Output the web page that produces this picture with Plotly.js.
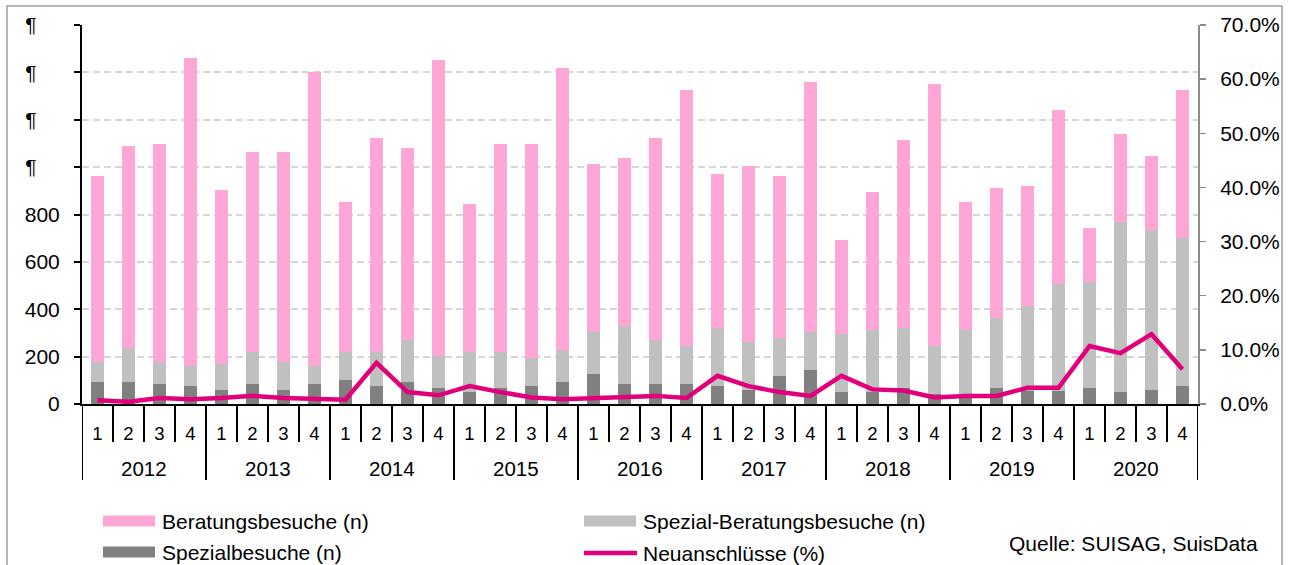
<!DOCTYPE html>
<html>
<head>
<meta charset="utf-8">
<script src="https://cdn.plot.ly/plotly-3.0.1.min.js"></script>
<style>html,body{margin:0;padding:0;background:#fff;}#chart{width:1290px;height:565px;}</style>
</head>
<body>
<div id="chart"></div>
<script>
// ---- data ----
const years = ["2012","2013","2014","2015","2016","2017","2018","2019","2020"];
const quarters = ["1","2","3","4"];
const spezialbesuche = [93,93,84,76, 59,84,59,84, 101,76,93,68, 51,68,76,93, 127,84,84,84, 76,59,118,144, 52,52,69,41, 30,69,55,55, 69,52,59,77];
const spezialBeratung = [84,143,93,84, 110,136,118,76, 119,144,177,135, 169,152,118,135, 177,245,186,161, 245,203,161,160, 244,260,252,204, 282,294,359,452, 446,716,676,624];
const beratungsbesuche = [785,853,921,1301, 734,844,887,1242, 633,903,811,1249, 624,878,904,1191, 709,710,853,1081, 650,743,683,1055, 396,583,794,1106, 541,549,506,734, 228,372,312,625];
const neuanschluesse = [0.7,0.4,1.1,0.9, 1.1,1.5,1.1,0.9, 0.8,7.6,2.2,1.6, 3.3,2.2,1.2,0.9, 1.1,1.5,1.5,1.1, 5.2,3.3,2.2,1.5, 5.2,2.7,2.5,1.2, 1.5,1.5,3.0,3.0, 10.7,9.4,12.9,6.4];
const leftTicks = [0,200,400,600,800,1000,1200,1400,1600];
const leftTickText = ["0","200","400","600","800","¶\u00a0\u00a0\u00a0\u00a0","¶\u00a0\u00a0\u00a0\u00a0","¶\u00a0\u00a0\u00a0\u00a0","¶\u00a0\u00a0\u00a0\u00a0"];
const rightTicks = [0,10,20,30,40,50,60,70];
const rightTickText = ["0.0%","10.0%","20.0%","30.0%","40.0%","50.0%","60.0%","70.0%"];
const names = ["Beratungsbesuche (n)","Spezial-Beratungsbesuche (n)","Spezialbesuche (n)","Neuanschlüsse (%)"];
const source = "Quelle: SUISAG, SuisData";

// ---- categories ----
const cats = [], qtext = [];
years.forEach(y => quarters.forEach(q => { cats.push(y + "-" + q); qtext.push(q); }));

// ---- layout geometry ----
const W = 1290, H = 565, L = 82, R = 92, T = 25, B = 161;
const PW = W - L - R, PH = H - T - B;
const px = X => (X - L) / PW;
const py = Y => (H - B - Y) / PH;

const PINK = "#fea7d6", GRAY = "#c0c0c0", DARK = "#808080", MAG = "#e2007a";
const FONT = "Liberation Sans, Arial, sans-serif";

const traces = [
  {type:"bar", x:cats, y:spezialbesuche, name:names[2], marker:{color:DARK}, yaxis:"y", hoverinfo:"skip"},
  {type:"bar", x:cats, y:spezialBeratung, name:names[1], marker:{color:GRAY}, yaxis:"y", hoverinfo:"skip"},
  {type:"bar", x:cats, y:beratungsbesuche, name:names[0], marker:{color:PINK}, yaxis:"y", hoverinfo:"skip"},
  {type:"scatter", mode:"lines", x:cats, y:neuanschluesse, name:names[3], yaxis:"y2", line:{color:MAG, width:4.5}, hoverinfo:"skip"}
];

const shapes = [];
const annotations = [];
// quarter / year separators under the axis
for (let i = 1; i < cats.length; i++) {
  const isYear = i % 4 === 0;
  shapes.push({type:"line", xref:"x", yref:"paper", x0:i-0.5, x1:i-0.5, y0:0, y1:py(isYear?480:442), line:{color:"#000", width:2}});
}
shapes.push({type:"line", xref:"x", yref:"paper", x0:-0.5, x1:-0.5, y0:0, y1:py(480), line:{color:"#000", width:2}});
shapes.push({type:"line", xref:"x", yref:"paper", x0:cats.length-0.5, x1:cats.length-0.5, y0:0, y1:py(480), line:{color:"#000", width:2}});
// year labels
years.forEach((y, k) => {
  annotations.push({xref:"x", yref:"paper", x:4*k+1.5, y:py(468), text:y, showarrow:false, xanchor:"center", yanchor:"middle", font:{family:FONT, size:20.5, color:"#000"}});
});
// outer frame
shapes.push({type:"rect", xref:"paper", yref:"paper", x0:px(7), x1:px(1282), y0:py(575), y1:py(6), line:{color:"#a0a0a0", width:1.5}, layer:"below"});
// legend (manual)
const leg = [
  {X:103, Y:521, kind:"rect", color:PINK, text:names[0]},
  {X:584, Y:521, kind:"rect", color:GRAY, text:names[1]},
  {X:103, Y:552, kind:"rect", color:DARK, text:names[2]},
  {X:584, Y:553, kind:"line", color:MAG, text:names[3]}
];
leg.forEach(e => {
  if (e.kind === "rect") {
    shapes.push({type:"rect", xref:"paper", yref:"paper", x0:px(e.X), x1:px(e.X+52), y0:py(e.Y+5.5), y1:py(e.Y-5.5), fillcolor:e.color, line:{width:0}});
  } else {
    shapes.push({type:"line", xref:"paper", yref:"paper", x0:px(e.X), x1:px(e.X+53), y0:py(e.Y), y1:py(e.Y), line:{color:e.color, width:4.5}});
  }
  annotations.push({xref:"paper", yref:"paper", x:px(e.X+57), y:py(e.Y), text:e.text, showarrow:false, xanchor:"left", yanchor:"middle", font:{family:FONT, size:21, color:"#000"}});
});
annotations.push({xref:"paper", yref:"paper", x:px(1260), y:py(543), text:source, showarrow:false, xanchor:"right", yanchor:"middle", font:{family:FONT, size:21, color:"#000"}});

const layout = {
  width:W, height:H,
  margin:{l:L, r:R, t:T, b:B, pad:0},
  paper_bgcolor:"#fff", plot_bgcolor:"#fff",
  barmode:"stack", bargap:0.61,
  showlegend:false,
  font:{family:FONT, size:20, color:"#000"},
  xaxis:{type:"category", range:[-0.5, cats.length-0.5], tickmode:"array", tickvals:cats, ticktext:qtext,
         ticks:"", showgrid:false, zeroline:false, showline:true, linecolor:"#000", linewidth:2,
         tickfont:{family:FONT, size:18.5, color:"#000"}, ticklabelstandoff:12, fixedrange:true},
  yaxis:{range:[0,1600], tickmode:"array", tickvals:leftTicks, ticktext:leftTickText,
         showgrid:true, gridcolor:"#d6d6d6", gridwidth:2, griddash:"7px,4px", zeroline:false,
         showline:true, linecolor:"#000", linewidth:2, ticks:"outside", ticklen:6, tickwidth:2, tickcolor:"#000",
         tickfont:{family:FONT, size:21, color:"#000"}, ticklabelstandoff:10, fixedrange:true},
  yaxis2:{overlaying:"y", side:"right", range:[0,70], tickmode:"array", tickvals:rightTicks, ticktext:rightTickText,
          showgrid:false, zeroline:false,
          showline:true, linecolor:"#8c8c8c", linewidth:2, ticks:"outside", ticklen:6, tickwidth:1.5, tickcolor:"#8c8c8c",
          tickfont:{family:FONT, size:21, color:"#000"}, ticklabelstandoff:10, fixedrange:true},
  shapes:shapes,
  annotations:annotations
};

Plotly.newPlot("chart", traces, layout, {staticPlot:true, displayModeBar:false});
</script>
</body>
</html>
